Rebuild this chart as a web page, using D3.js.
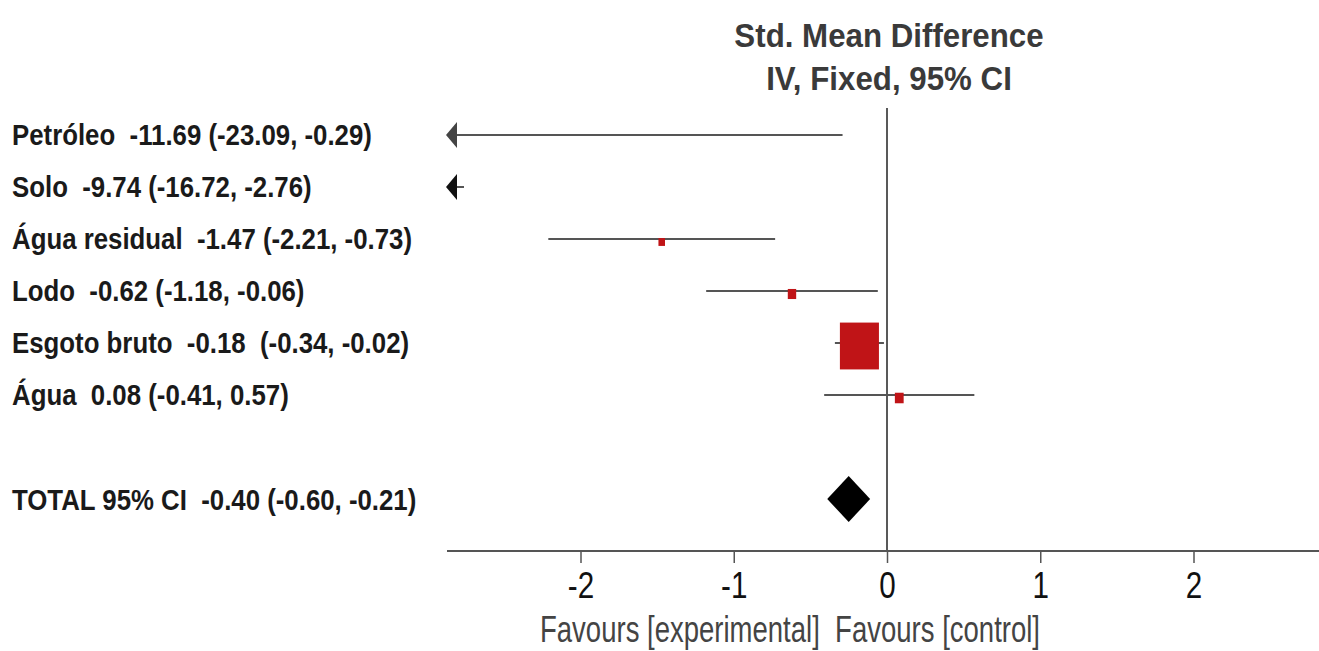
<!DOCTYPE html>
<html>
<head>
<meta charset="utf-8">
<script src="https://cdn.jsdelivr.net/npm/d3@7"></script>
<style>
  body { margin: 0; background: #fff; }
  text { font-family: "Liberation Sans", Arial, sans-serif; white-space: pre; }
</style>
</head>
<body>
<div id="chart"></div>
<script>
// study rows
var studies = ["Petróleo", "Solo", "Água residual", "Lodo", "Esgoto bruto", "Água"];
var effect  = [-11.69, -9.74, -1.47, -0.62, -0.18, 0.08];
var ciLow   = [-23.09, -16.72, -2.21, -1.18, -0.34, -0.41];
var ciHigh  = [-0.29, -2.76, -0.73, -0.06, -0.02, 0.57];
var weight  = [0.0, 0.1, 2.5, 4.1, 88.9, 4.5];
var rowLabels = [
  "Petróleo  -11.69 (-23.09, -0.29)",
  "Solo  -9.74 (-16.72, -2.76)",
  "Água residual  -1.47 (-2.21, -0.73)",
  "Lodo  -0.62 (-1.18, -0.06)",
  "Esgoto bruto  -0.18  (-0.34, -0.02)",
  "Água  0.08 (-0.41, 0.57)"
];
// pooled result (text as printed, diamond as drawn)
var totalLabel = "TOTAL 95% CI  -0.40 (-0.60, -0.21)";
var totalMark = [-0.39, -0.25, -0.11];
var xTicks = [-2, -1, 0, 1, 2];
var favours = "Favours [experimental]  Favours [control]";

var W = 1319, H = 651;
var axisLeft = 447, axisRight = 1319, axisY = 551;

var svg = d3.select("#chart").append("svg")
    .attr("width", W).attr("height", H);

var x = d3.scaleLinear().domain([-2, 2]).range([580.5, 1193.5]);
var y = d3.scaleLinear().domain([0, 1]).range([135, 187]);
var side = d3.scaleSqrt().domain([0, 100]).range([0, 41.4]);
var xMin = x.invert(axisLeft);

// the original uses a narrow face, so squeeze text horizontally
function label(px, py, str, size, sx) {
  return svg.append("text")
    .attr("transform", "translate(" + px + "," + py + ") scale(" + sx + ",1)")
    .attr("font-size", size)
    .text(str);
}

// title
label(x(0) + 2, 47, "Std. Mean Difference", 34, 0.92)
    .attr("text-anchor", "middle").attr("font-weight", "bold").attr("fill", "#3a3a3a");
label(x(0) + 2, 90, "IV, Fixed, 95% CI", 34, 0.92)
    .attr("text-anchor", "middle").attr("font-weight", "bold").attr("fill", "#3a3a3a");

// zero line
svg.append("line")
    .attr("x1", x(0)).attr("x2", x(0))
    .attr("y1", 108).attr("y2", axisY)
    .attr("stroke", "#222").attr("stroke-width", 1.5);

// axis
svg.append("line")
    .attr("x1", axisLeft).attr("x2", axisRight)
    .attr("y1", axisY).attr("y2", axisY)
    .attr("stroke", "#555").attr("stroke-width", 2);

var xAxis = svg.append("g")
    .attr("transform", "translate(0," + axisY + ")")
    .call(d3.axisBottom(x).tickValues(xTicks).tickSize(12).tickPadding(9)
      .tickFormat(function(d) { return d < 0 ? "-" + Math.abs(d) : d; }));
xAxis.select(".domain").remove();
xAxis.selectAll(".tick line").attr("stroke", "#555").attr("stroke-width", 1.5);
xAxis.selectAll(".tick text")
    .attr("font-size", 37).attr("fill", "#111")
    .attr("transform", "scale(0.8,1)")
    .style("font-family", "'Liberation Sans', Arial, sans-serif");

svg.append("text")
    .attr("x", x(0) - 97).attr("y", 642)
    .attr("text-anchor", "middle").attr("font-size", 37).attr("fill", "#444")
    .attr("textLength", 500).attr("lengthAdjust", "spacingAndGlyphs")
    .text(favours);

// row labels
rowLabels.forEach(function(t, i) {
  label(12, y(i) + 10, t, 29, 0.89).attr("font-weight", "bold").attr("fill", "#1a1a1a");
});
label(12, y(7) + 11, totalLabel, 29, 0.89).attr("font-weight", "bold").attr("fill", "#1a1a1a");

// CI lines
var rows = studies.map(function(s, i) {
  return { name: s, est: effect[i], lo: ciLow[i], hi: ciHigh[i], w: weight[i], i: i };
});

svg.selectAll(".ci").data(rows).enter().append("line")
    .attr("class", "ci")
    .attr("x1", function(d) { return x(Math.max(d.lo, xMin)) + (d.lo < xMin ? 8 : 0); })
    .attr("x2", function(d) { return x(d.hi); })
    .attr("y1", function(d) { return y(d.i); })
    .attr("y2", function(d) { return y(d.i); })
    .attr("stroke", "#555").attr("stroke-width", 2);

// arrows for off-scale lower limits
svg.selectAll(".arrow").data(rows.filter(function(d) { return d.lo < xMin; }))
  .enter().append("path")
    .attr("class", "arrow")
    .attr("d", function(d) {
      var x0 = x(xMin) - 1, cy = y(d.i);
      return "M" + x0 + "," + cy + "L" + (x0 + 11) + "," + (cy - 13) +
             "L" + (x0 + 11) + "," + (cy + 13) + "Z";
    })
    .attr("fill", function(d) { return d.i === 0 ? "#444" : "#111"; });

// boxes
svg.selectAll(".box").data(rows.filter(function(d) { return d.est > xMin && d.w > 0; }))
  .enter().append("rect")
    .attr("class", "box")
    .attr("x", function(d) { return x(d.est) - side(d.w) / 2; })
    .attr("y", function(d) { return y(d.i) + 3 - side(d.w) * 0.6; })
    .attr("width", function(d) { return side(d.w); })
    .attr("height", function(d) { return side(d.w) * 1.2; })
    .attr("fill", "#c01417");

// diamond
var ty = y(7);
svg.append("path")
    .attr("d", "M" + x(totalMark[0]) + "," + ty +
               "L" + x(totalMark[1]) + "," + (ty - 23) +
               "L" + x(totalMark[2]) + "," + ty +
               "L" + x(totalMark[1]) + "," + (ty + 23) + "Z")
    .attr("fill", "#000");
</script>
</body>
</html>
